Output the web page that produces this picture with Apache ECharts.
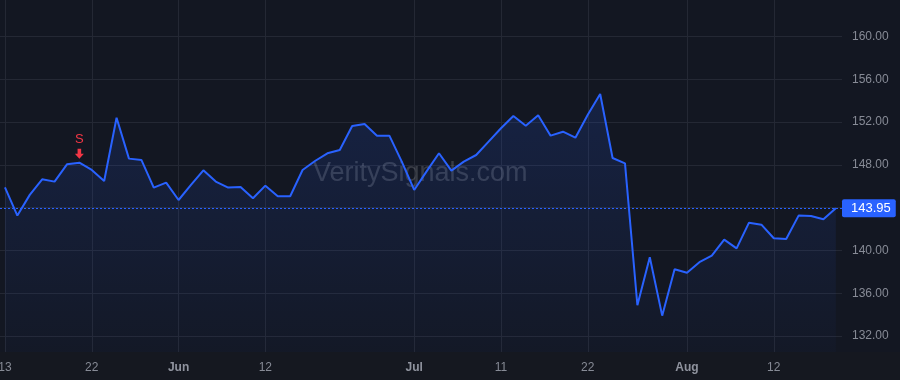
<!DOCTYPE html>
<html>
<head>
<meta charset="utf-8">
<style>
  html, body { margin: 0; padding: 0; background: #131722; }
  #container { width: 900px; height: 380px; }
</style>
<script src="https://cdn.jsdelivr.net/npm/echarts@6/dist/echarts.min.js"></script>
</head>
<body>
<div id="container"></div>
<script>
// trading days, 13 May -> 19 Aug
const dates = [
    '05-13', '05-14', '05-15', '05-16', '05-17', '05-20', '05-21', '05-22', '05-23', '05-24', '05-28', '05-29', '05-30', '05-31',
    '06-03', '06-04', '06-05', '06-06', '06-07', '06-10', '06-11', '06-12', '06-13', '06-14', '06-17', '06-18', '06-20', '06-21',
    '06-24', '06-25', '06-26', '06-27', '06-28',
    '07-01', '07-02', '07-03', '07-05', '07-08', '07-09', '07-10', '07-11', '07-12', '07-15', '07-16', '07-17', '07-18', '07-19',
    '07-22', '07-23', '07-24', '07-25', '07-26', '07-29', '07-30', '07-31',
    '08-01', '08-02', '08-05', '08-06', '08-07', '08-08', '08-09', '08-12', '08-13', '08-14', '08-15', '08-16', '08-19'
];

const prices = [
    145.9, 143.26, 145.2, 146.66, 146.44, 148.06, 148.21, 147.53, 146.5, 152.42, 148.59, 148.47, 145.88, 146.35,
    144.72, 146.13, 147.5, 146.44, 145.88, 145.94, 144.88, 146.06, 145.07, 145.07, 147.53, 148.37, 149.09, 149.4,
    151.65, 151.83, 150.74, 150.74, 148.31,
    145.66, 147.4, 149.09, 147.47, 148.31, 148.93, 150.18, 151.43, 152.58, 151.67, 152.64, 150.74, 151.11, 150.55,
    152.7, 154.64, 148.65, 148.15, 134.87, 139.36, 133.9, 138.24,
    137.92, 138.9, 139.51, 141.01, 140.2, 142.6, 142.41, 141.14, 141.08, 143.26, 143.23, 142.92, 143.95
];

const tickIndex = [0, 7, 14, 21, 33, 40, 47, 55, 62];
const tickLabels = ['13', '22', 'Jun', '12', 'Jul', '11', '22', 'Aug', '12'];
const monthLabels = ['Jun', 'Jul', 'Aug'];

const yLabels = [132, 136, 140, 148, 152, 156, 160];
const yTicks = [132, 136, 140, 144, 148, 152, 156, 160];

const lastPrice = 143.95;
const signalIndex = 6;

var dom = document.getElementById('container');
var myChart = echarts.init(dom, null, { renderer: 'canvas' });

const font = '"Liberation Sans", Arial, sans-serif';
const gridColor = '#242834';

var option = {
    backgroundColor: '#131722',
    animation: false,
    textStyle: { fontFamily: font },
    grid: {
        left: 0,
        right: 58,
        top: 0,
        bottom: 28,
        outerBoundsMode: 'none',
        containLabel: false,
        show: true,
        borderWidth: 0,
        backgroundColor: '#131722'
    },
    graphic: [
        {
            type: 'rect',
            left: 0,
            top: 352,
            shape: { width: 900, height: 28 },
            style: { fill: '#151820' },
            z: 0,
            silent: true
        },
        {
            type: 'text',
            left: 313,
            top: 160,
            z: 1,
            silent: true,
            style: {
                text: 'VeritySignals.com',
                fontSize: 27,
                fontFamily: font,
                fill: 'rgba(255,255,255,0.16)'
            }
        }
    ],
    xAxis: {
        type: 'value',
        min: -0.4,
        max: 67.5,
        axisLine: { show: false },
        axisTick: { show: false, customValues: tickIndex },
        splitLine: { show: true, lineStyle: { color: gridColor, width: 1 } },
        axisLabel: {
            customValues: tickIndex,
            margin: 10,
            fontSize: 12,
            color: '#878b96',
            formatter: function (v) {
                const k = tickIndex.indexOf(v);
                const t = k >= 0 ? tickLabels[k] : '';
                return monthLabels.indexOf(t) >= 0 ? '{m|' + t + '}' : t;
            },
            rich: {
                m: { fontWeight: 'bold', fontSize: 12, color: '#8f939e' }
            }
        }
    },
    yAxis: {
        type: 'value',
        position: 'right',
        min: 130.5,
        max: 163.43,
        axisLine: { show: false },
        axisTick: { show: false, customValues: yTicks },
        splitLine: { show: true, lineStyle: { color: gridColor, width: 1 } },
        axisLabel: {
            customValues: yLabels,
            margin: 10,
            fontSize: 12,
            color: '#878b96',
            formatter: function (v) { return v.toFixed(2); }
        }
    },
    series: [
        {
            type: 'line',
            data: prices.map((p, i) => [i, p]),
            showSymbol: false,
            lineStyle: { color: '#2962ff', width: 2 },
            itemStyle: { color: '#2962ff' },
            areaStyle: {
                origin: 'start',
                color: new echarts.graphic.LinearGradient(0, 0, 0, 1, [
                    { offset: 0, color: 'rgba(41,98,255,0.22)' },
                    { offset: 1, color: 'rgba(41,98,255,0.03)' }
                ])
            },
            markLine: {
                silent: true,
                symbol: 'none',
                animation: false,
                lineStyle: { color: '#2962ff', type: [2, 2], width: 1 },
                label: {
                    position: 'end',
                    distance: 0,
                    formatter: lastPrice.toFixed(2),
                    backgroundColor: '#2962ff',
                    color: '#ffffff',
                    fontSize: 13,
                    padding: [3, 5, 2, 9],
                    borderRadius: 2
                },
                data: [{ yAxis: lastPrice }]
            },
            markPoint: {
                silent: true,
                symbol: 'path://M3,0 L7,0 L7,5 L10,5 L5,10 L0,5 L3,5 Z',
                symbolSize: [9, 10],
                symbolOffset: [0, -9],
                itemStyle: { color: '#f23645' },
                label: {
                    show: true,
                    position: 'top',
                    distance: 3,
                    formatter: 'S',
                    color: '#f23645',
                    fontSize: 13
                },
                data: [{ coord: [signalIndex, prices[signalIndex]] }]
            }
        }
    ]
};

myChart.setOption(option);
window.addEventListener('resize', myChart.resize);
</script>
</body>
</html>
